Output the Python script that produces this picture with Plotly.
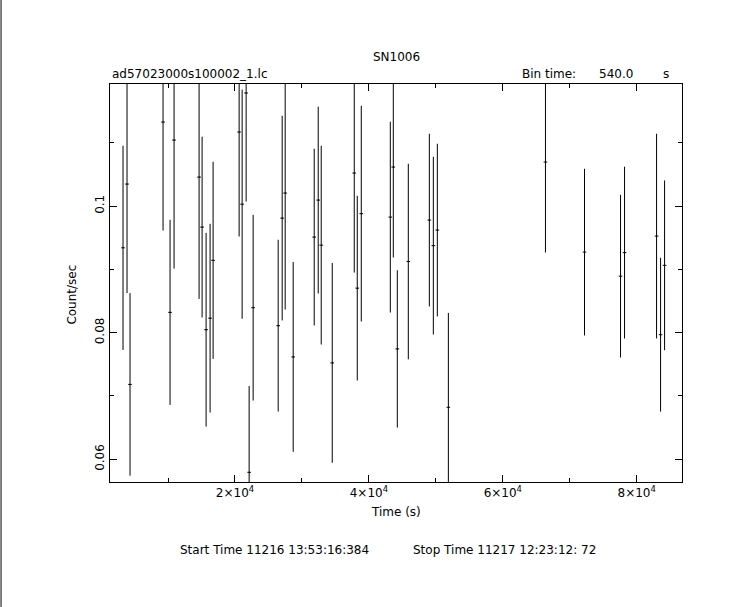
import plotly.graph_objects as go

# Light curve data (bin centres in s, rate in count/s, 1-sigma error)
time_s = [3275, 3873, 4321, 9255, 10302, 10900, 14638, 15087, 15685, 16283,
          16731, 20619, 21068, 21666, 22114, 22712, 26451, 27048, 27497, 28693,
          31833, 32431, 32880, 34525, 37814, 38263, 38861, 43197, 43646, 44244,
          45888, 49028, 49626, 50224, 51869, 66373, 72204, 77587, 78185, 82969,
          83568, 84166]
rate = [0.09341, 0.10348, 0.07183, 0.11328, 0.08321, 0.11043, 0.10458, 0.09668,
        0.08047, 0.08229, 0.09143, 0.11170, 0.10030, 0.11787, 0.05794, 0.08395,
        0.08111, 0.09810, 0.10206, 0.07617, 0.09510, 0.10095, 0.09383, 0.07523,
        0.10522, 0.08704, 0.09881, 0.09826, 0.10617, 0.07744, 0.09124, 0.09779,
        0.09375, 0.09621, 0.06822, 0.10696, 0.09273, 0.08893, 0.09265, 0.09526,
        0.07968, 0.09064]
rate_err = [0.01613, 0.01723, 0.01442, 0.01714, 0.01462, 0.02030, 0.01924, 0.01428,
            0.01530, 0.01491, 0.01557, 0.01651, 0.01810, 0.01714, 0.01364, 0.01467,
            0.01357, 0.01617, 0.01840, 0.01499, 0.01396, 0.01475, 0.01570, 0.01578,
            0.01572, 0.01459, 0.01704, 0.01507, 0.01429, 0.01243, 0.01545, 0.01364,
            0.01404, 0.01364, 0.01491, 0.01429, 0.01317, 0.01285, 0.01357, 0.01617,
            0.01214, 0.01341]
bin_time = 540.0
half_bin = [bin_time / 2] * len(time_s)

x_tickvals = [20000, 40000, 60000, 80000]
x_ticktext = ["2×10<sup>4</sup>", "4×10<sup>4</sup>", "6×10<sup>4</sup>", "8×10<sup>4</sup>"]
y_tickvals = [0.06, 0.08, 0.1]
y_ticktext = ["0.06", "0.08", "0.1"]

FONT = "DejaVu Sans"

fig = go.Figure()
fig.add_trace(go.Scatter(
    x=time_s, y=rate, mode="markers",
    marker=dict(size=1, color="black"),
    error_y=dict(type="data", array=rate_err, color="black", thickness=1, width=0),
    error_x=dict(type="data", array=half_bin, color="black", thickness=1, width=0),
    showlegend=False, hoverinfo="skip",
))

axis_common = dict(showline=True, linecolor="black", linewidth=1, mirror="ticks",
                   ticks="inside", tickcolor="black", tickwidth=1, ticklen=7,
                   showgrid=False, zeroline=False,
                   tickfont=dict(family=FONT, size=12, color="black"))

fig.update_xaxes(range=[1331, 86767], tickmode="array", tickvals=x_tickvals,
                 ticktext=x_ticktext,
                 minor=dict(ticks="inside", tickmode="linear", tick0=0, dtick=10000,
                            ticklen=4, tickcolor="black", tickwidth=1, showgrid=False),
                 **axis_common)
fig.update_yaxes(range=[0.05641, 0.11929], tickmode="array", tickvals=y_tickvals,
                 ticktext=y_ticktext, tickangle=-90,
                 minor=dict(ticks="inside", tickmode="linear", tick0=0, dtick=0.01,
                            ticklen=4, tickcolor="black", tickwidth=1, showgrid=False),
                 **axis_common)

def ann(text, x, y, xanchor="center", yanchor="middle", angle=0):
    fig.add_annotation(text=text, x=x, y=y, xref="paper", yref="paper",
                       xanchor=xanchor, yanchor=yanchor, showarrow=False,
                       textangle=angle, font=dict(family=FONT, size=12, color="black"))

ann("SN1006", 0.5, 1.068)
ann("ad57023000s100002_1.lc", 0.0, 1.026, xanchor="left")
ann("Bin time:", 0.717, 1.026, xanchor="left")
ann("540.0", 0.918, 1.026, xanchor="right")
ann("s", 0.972, 1.026)
ann("Time (s)", 0.5, -0.075)
ann("Count/sec", -0.067, 0.47, angle=-90)
ann("Start Time 11216 13:53:16:384", 0.1195, -0.170, xanchor="left")
ann("Stop Time 11217 12:23:12: 72", 0.5254, -0.170, xanchor="left")

# thin frame line on the left edge of the page
fig.add_shape(type="line", xref="paper", yref="paper", x0=-0.1905, x1=-0.1905,
              y0=-0.314, y1=1.212, line=dict(color="black", width=1))

fig.update_layout(width=743, height=607, plot_bgcolor="white", paper_bgcolor="white",
                  margin=dict(l=110, r=61, t=84, b=125, autoexpand=False))

fig.write_html("out.html", config={"displayModeBar": False},
               post_script="document.body.style.margin='0';document.body.style.overflow='hidden';")
